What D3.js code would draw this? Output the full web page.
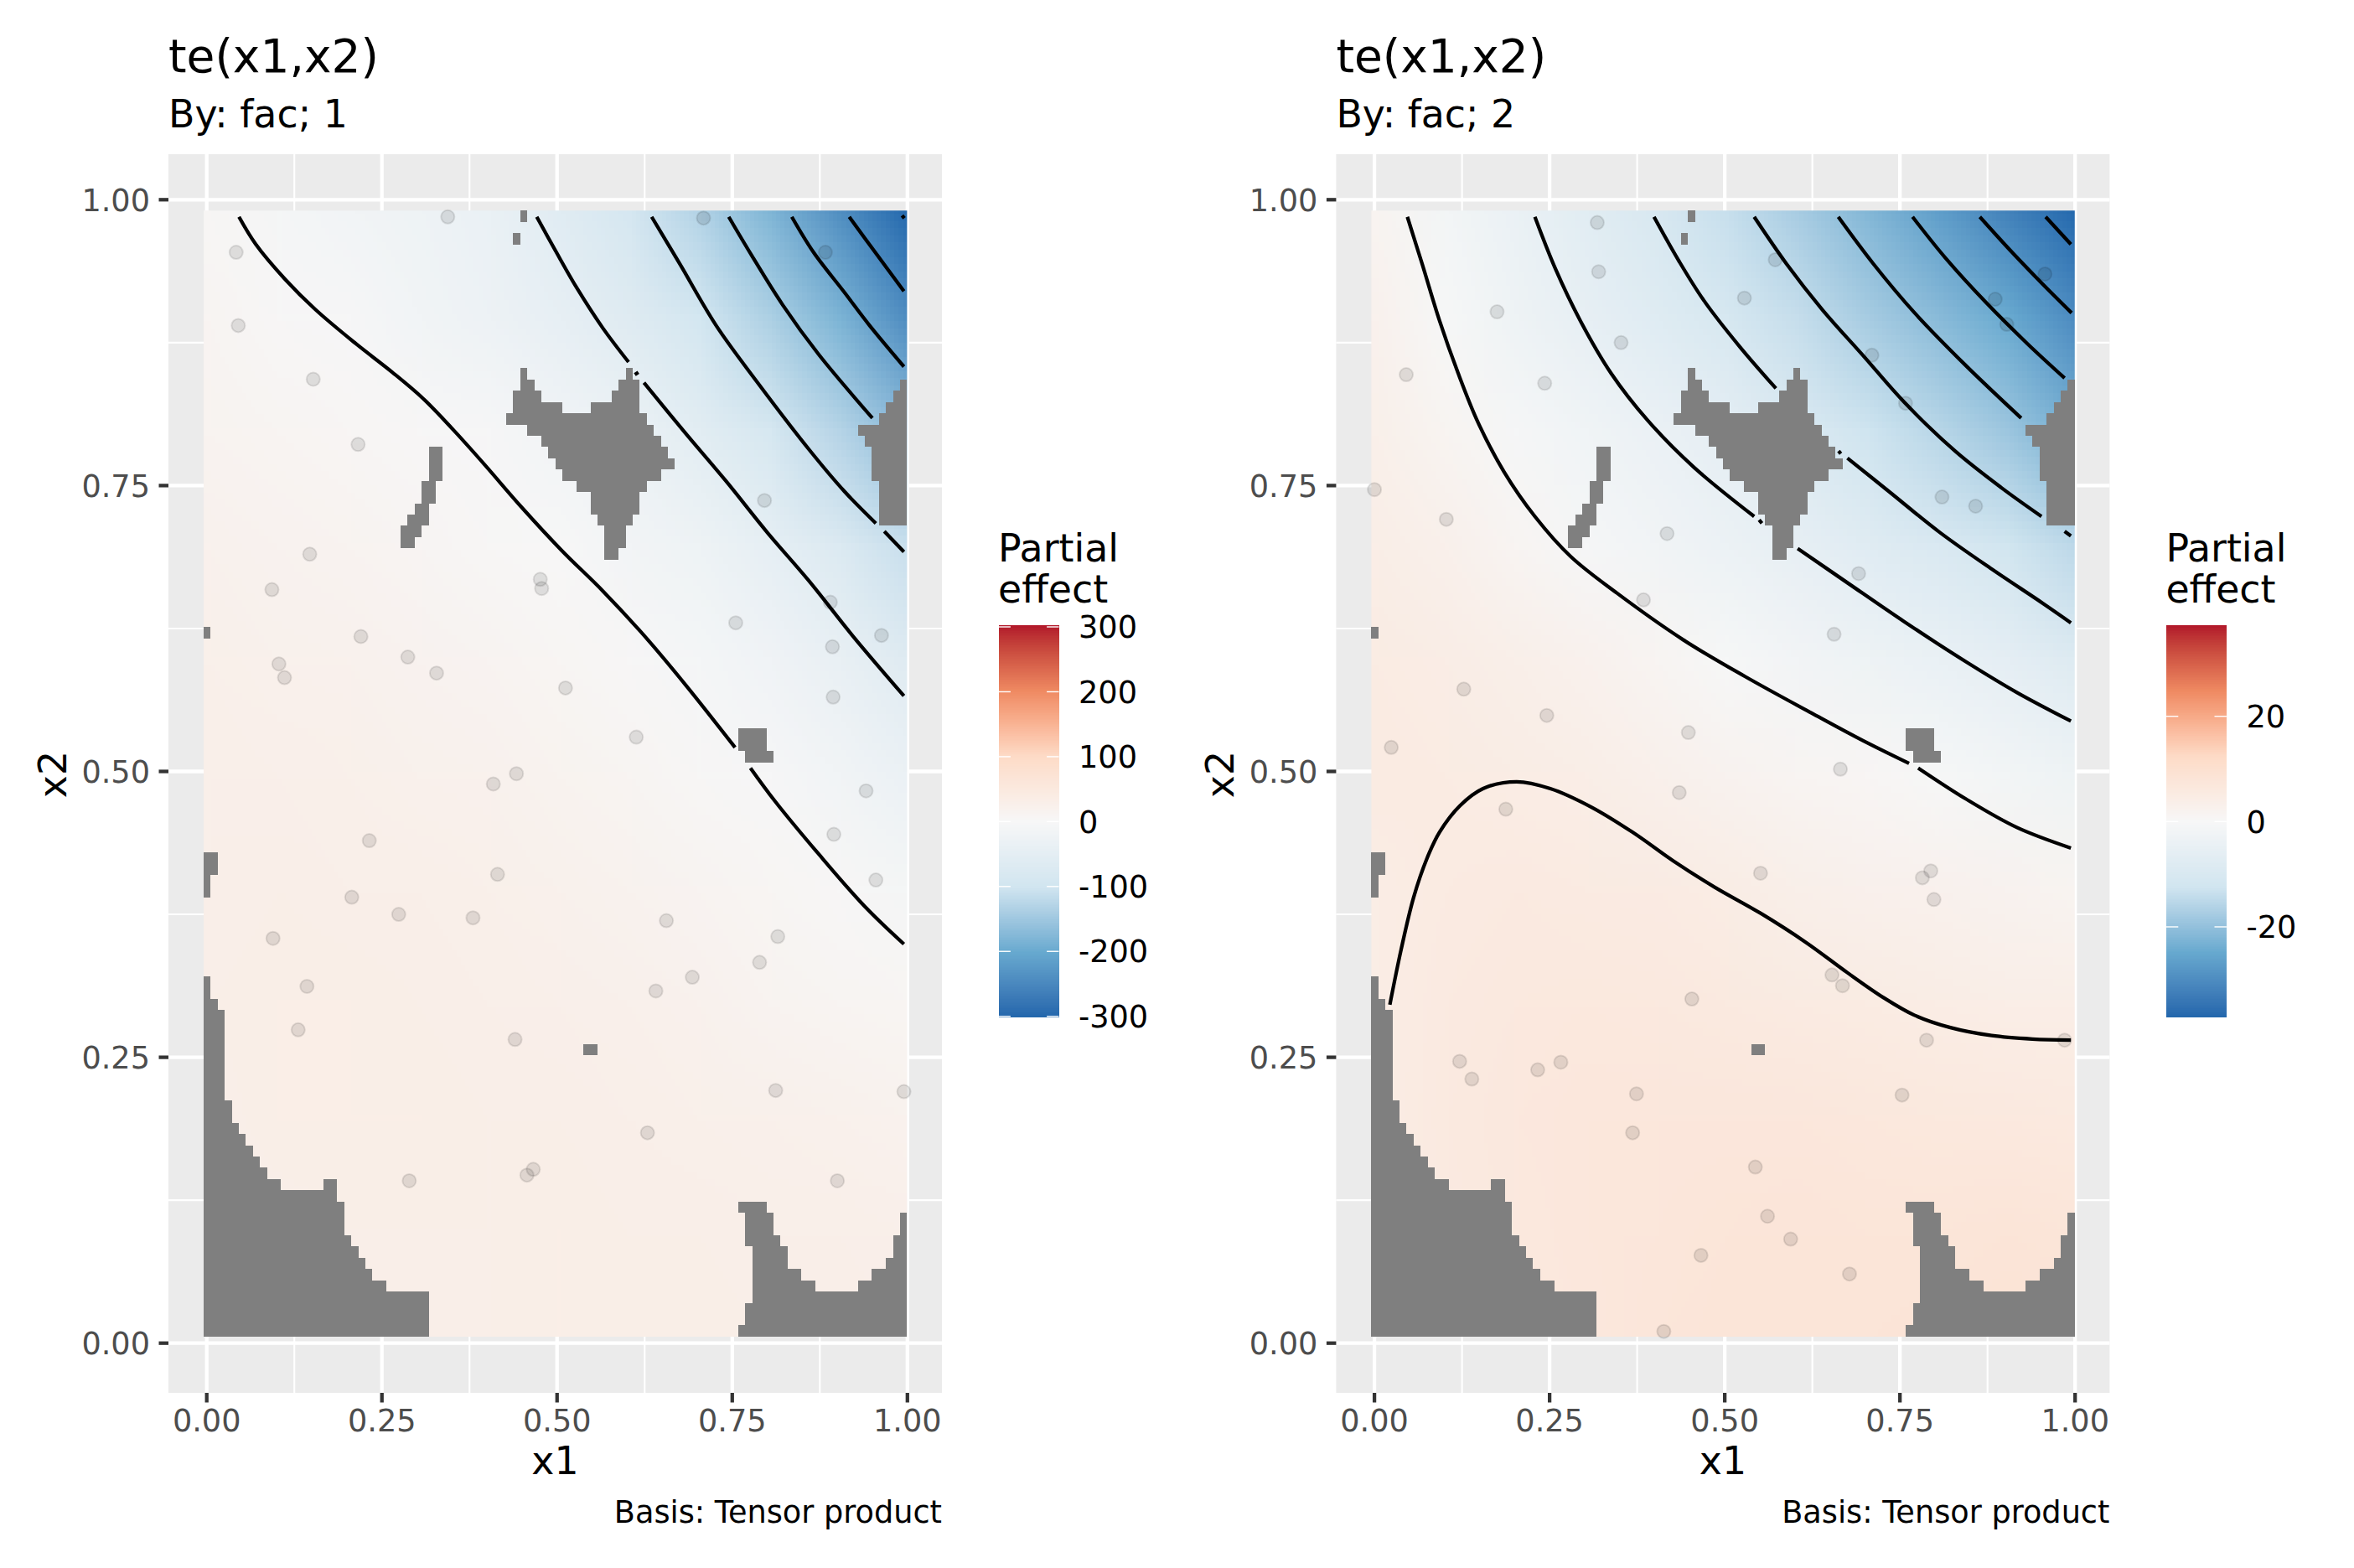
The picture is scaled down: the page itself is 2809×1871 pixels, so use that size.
<!DOCTYPE html>
<html><head><meta charset="utf-8">
<script src="https://cdn.jsdelivr.net/npm/d3@7/dist/d3.min.js"></script>
<style>html,body{margin:0;padding:0;background:#fff}svg{display:block}text{font-family:"DejaVu Sans"}</style>
</head><body><svg id="chart" width="2809" height="1871"></svg>
<script>
// ---------- data ----------
const axisTicks = [0, 0.25, 0.5, 0.75, 1];
const minorTicks = [0.125, 0.375, 0.625, 0.875];
const panelTitle = "te(x1,x2)";
const panelSubtitles = ["By: fac; 1", "By: fac; 2"];
const captionText = "Basis: Tensor product";
const legendTitleLines = ["Partial", "effect"];
const legendTicks1 = [300, 200, 100, 0, -100, -200, -300];
const legendTicks2 = [20, 0, -20];
const legendLimit1 = 301.7;
const legendLimit2 = 37.2;
const palette = ["#2166AC", "#67A9CF", "#D1E5F0", "#F7F7F7", "#FDDBC7", "#EF8A62", "#B2182B"];

// field values at x = 0, .1 ... 1 (columns) and y = 1, .9 ... 0 (rows)
const field1 = [
 [4,-8,-15,-25,-35,-60,-90,-132,-183,-243,-310],
 [10,3,-4,-15,-27,-42,-65,-92,-136,-183,-245],
 [15,10,7,3,-4,-15,-30,-57,-85,-128,-172],
 [21,17,14,9,5,-1,-14,-25,-45,-72,-110],
 [26,23,20,17,13,8,3,-7,-20,-37,-65],
 [29,27,26,23,20,16,11,5,-3,-17,-33],
 [30,31,30,29,26,23,18,13,8,2,-8],
 [31,33,33,32,30,27,24,20,15,10,8],
 [29,33,34,33,32,31,29,26,24,22,19],
 [26,30,31,32,32,33,32,31,30,29,27],
 [23,27,29,31,32,34,34,33,32,31,30]
];
const field2 = [
 [1.5,-1.5,-4.3,-7.2,-10.3,-13.7,-17.7,-22,-27,-32.5,-38],
 [2.5,-0.3,-2.8,-5.3,-7.8,-10.5,-13.8,-17.5,-21,-24.6,-30.3],
 [3.3,1.5,-0.8,-2.3,-4,-6,-9,-12.5,-15.3,-18.8,-23.5],
 [4.2,3,1.3,-0.7,-2,-3.5,-5.2,-7.7,-9.5,-12,-15],
 [5,4.4,3.5,2.6,1.2,-0.3,-1.8,-3,-4.4,-6,-8.3],
 [5.4,5,4.6,4,3,2,1.4,0.8,-0.2,-1.5,-3],
 [4.5,5.4,5.7,5.5,5.1,4.6,3.6,2.9,2.6,2.1,1.5],
 [4.5,5.6,6.2,6.3,6.1,5.8,5.4,5,4.6,4.2,4],
 [4.6,5.8,6.5,6.9,7,7,6.9,6.6,6.3,6.1,5.9],
 [4.6,5.6,6.3,6.9,7.3,7.6,7.8,7.7,7.7,8,7.6],
 [4.3,5.3,6,6.7,7.4,8,8,8,8.3,8.7,8.7]
];

// data extent of the 100 x 100 evaluation grid
const gridXRange = [-0.0044, 0.9995];
const gridYRange = [0.0057, 0.9905];
// excluded cells: [row from top, first column, column after last]
const naRuns = [
 [0,45,46],[2,44,45],[14,45,46],[14,60,61],[15,45,47],[15,59,62],[15,99,100],
 [16,44,48],[16,58,62],[16,98,100],[17,44,51],[17,55,62],[17,97,100],
 [18,43,63],[18,96,100],[19,46,64],[19,93,100],[20,48,65],[20,94,100],
 [21,32,34],[21,49,66],[21,95,100],[22,32,34],[22,50,67],[22,95,100],
 [23,32,34],[23,51,65],[23,95,100],[24,31,33],[24,53,63],[24,96,100],
 [25,31,33],[25,55,62],[25,96,100],[26,30,32],[26,55,62],[26,96,100],
 [27,29,32],[27,56,61],[27,96,100],[28,28,31],[28,57,60],[29,28,30],[29,57,60],
 [30,57,59],[37,0,1],[46,76,80],[47,76,80],[48,77,81],
 [57,0,2],[58,0,2],[59,0,1],[60,0,1],[68,0,1],[69,0,1],[70,0,2],
 [71,0,3],[72,0,3],[73,0,3],[74,0,3],[74,54,56],[75,0,3],[76,0,3],[77,0,3],[78,0,3],
 [79,0,4],[80,0,4],[81,0,5],[82,0,6],[83,0,7],[84,0,8],[85,0,9],
 [86,0,11],[86,17,19],[87,0,19],[88,0,20],[88,76,80],
 [89,0,20],[89,77,81],[89,99,100],[90,0,20],[90,77,81],[90,99,100],
 [91,0,21],[91,77,82],[91,98,100],[92,0,22],[92,78,83],[92,98,100],
 [93,0,23],[93,78,83],[93,97,100],[94,0,24],[94,78,85],[94,95,100],
 [95,0,26],[95,78,87],[95,93,100],[96,0,32],[96,78,100],
 [97,0,32],[97,77,100],[98,0,32],[98,77,100],[99,0,32],[99,76,100]
];

const points1 = [
 [.344,.985],[.709,.984],[.883,.954],[.042,.954],[.045,.890],[.152,.843],[.216,.786],[.796,.737],
 [.476,.668],[.478,.660],[.147,.690],[.093,.659],[.890,.648],[.755,.630],[.963,.619],[.893,.609],
 [.220,.618],[.103,.594],[.111,.582],[.287,.600],[.328,.586],[.512,.573],[.894,.565],[.613,.530],
 [.442,.498],[.409,.489],[.941,.483],[.895,.445],[.232,.4395],[.415,.410],[.955,.405],[.207,.390],
 [.274,.375],[.380,.372],[.656,.3695],[.0946,.354],[.815,.3556],[.789,.333],[.693,.320],[.641,.308],
 [.143,.312],[.1305,.274],[.440,.2656],[.812,.221],[.995,.220],[.629,.184],[.466,.152],[.457,.147],
 [.289,.142],[.900,.142]
];
const points2 = [
 [.318,.980],[.320,.937],[.572,.9475],[.957,.935],[.528,.914],[.886,.913],[.9025,.891],[.175,.902],
 [.352,.875],[.710,.864],[.0454,.847],[.243,.8395],[.758,.822],[.810,.740],[.858,.732],[0,.7465],
 [.1026,.7205],[.4176,.708],[.691,.673],[.384,.650],[.656,.620],[.1275,.572],[.246,.549],[.448,.534],
 [.024,.521],[.665,.502],[.435,.4815],[.1875,.467],[.551,.411],[.794,.413],[.782,.407],[.7985,.388],
 [.653,.322],[.668,.3126],[.453,.301],[.788,.265],[.985,.265],[.1216,.2465],[.139,.231],[.233,.239],
 [.266,.2457],[.374,.218],[.3685,.184],[.753,.217],[.5436,.154],[.561,.111],[.594,.091],[.466,.0768],
 [.678,.0605],[.413,.0103]
];

const contours1 = [
 [[.046,.985],[.070,.961],[.111,.931],[.155,.904],[.213,.874],[.265,.849],[.309,.826],[.353,.798],[.397,.768],[.448,.732],[.507,.693],[.565,.658],[.624,.619],[.683,.576],[.754,.521]],
 [[.776,.503],[.811,.474],[.873,.428],[.939,.382],[.995,.349]],
 [[.471,.985],[.499,.954],[.529,.922],[.565,.888],[.602,.858]],
 [[.611,.847],[.616,.849]],
 [[.624,.840],[.683,.796],[.741,.754],[.800,.709],[.859,.667],[.924,.617],[.995,.566]],
 [[.635,.985],[.675,.944],[.727,.890],[.785,.841],[.859,.782],[.910,.745],[.955,.717]],
 [[.967,.710],[.995,.692]],
 [[.745,.985],[.778,.951],[.822,.908],[.873,.865],[.950,.809]],
 [[.835,.985],[.866,.954],[.910,.919],[.946,.890],[.995,.854]],
 [[.917,.985],[.954,.954],[.995,.920]],
 [[.992,.984],[.996,.986]]
];
const contours2 = [
 [[.022,.296],[.038,.344],[.056,.390],[.075,.424],[.093,.447],[.122,.470],[.155,.485],[.203,.491],[.251,.485],[.309,.469],[.368,.447],[.426,.422],[.485,.399],[.551,.376],[.617,.350],[.675,.324],[.727,.302],[.770,.287],[.822,.276],[.881,.269],[.939,.266],[.994,.265]],
 [[.047,.985],[.068,.944],[.093,.894],[.119,.849],[.148,.805],[.185,.762],[.229,.723],[.280,.688],[.346,.656],[.441,.615],[.529,.583],[.624,.551],[.697,.527],[.763,.507]],
 [[.776,.503],[.844,.476],[.917,.451],[.994,.433]],
 [[.229,.985],[.258,.940],[.294,.894],[.338,.848],[.390,.807],[.456,.766],[.542,.723]],
 [[.549,.720],[.553,.717]],
 [[.604,.695],[.675,.665],[.756,.631],[.844,.596],[.917,.569],[.994,.544]],
 [[.399,.985],[.434,.947],[.470,.912],[.522,.871],[.573,.835]],
 [[.662,.778],[.666,.780]],
 [[.675,.774],[.734,.745],[.807,.709],[.881,.677],[.954,.647],[.994,.630]],
 [[.542,.985],[.588,.944],[.639,.904],[.697,.864],[.756,.823],[.829,.780],[.895,.748],[.952,.723]],
 [[.985,.710],[.994,.706]],
 [[.662,.985],[.712,.944],[.771,.901],[.844,.855],[.923,.809]],
 [[.768,.985],[.815,.949],[.873,.910],[.932,.874],[.985,.844]],
 [[.864,.985],[.910,.954],[.954,.926],[.995,.901]],
 [[.958,.985],[.994,.961]]
];

// ---------- layout ----------
const svg = d3.select("#chart");
const defs = svg.append("defs");
const SZ = {title: 55, sub: 45.83, axisTitle: 45.83, tick: 36.67, caption: 36.67};

function colorScale(limit) {
  const dom = palette.map((_, i) => -limit + i * (2 * limit) / 6);
  return d3.scaleLinear().domain(dom).range(palette).interpolate(d3.interpolateLab).clamp(true);
}

function drawPanel(idx, dx, field, points, contours, limit, legendTicks, subtitle) {
  const g = svg.append("g").attr("transform", `translate(${dx},0)`);
  const pL = 201, pR = 1124, pT = 184, pB = 1662;
  const x = d3.scaleLinear().domain([0, 1]).range([246.7, 1082.8]);
  const y = d3.scaleLinear().domain([0, 1]).range([1602.7, 238.3]);
  const color = colorScale(limit);

  g.append("rect").attr("x", pL).attr("y", pT).attr("width", pR - pL).attr("height", pB - pT).attr("fill", "#EBEBEB");
  const grid = g.append("g").attr("stroke", "#fff").attr("fill", "none");
  minorTicks.forEach(t => {
    grid.append("line").attr("x1", x(t)).attr("x2", x(t)).attr("y1", pT).attr("y2", pB).attr("stroke-width", 2.13);
    grid.append("line").attr("y1", y(t)).attr("y2", y(t)).attr("x1", pL).attr("x2", pR).attr("stroke-width", 2.13);
  });
  axisTicks.forEach(t => {
    grid.append("line").attr("x1", x(t)).attr("x2", x(t)).attr("y1", pT).attr("y2", pB).attr("stroke-width", 4.27);
    grid.append("line").attr("y1", y(t)).attr("y2", y(t)).attr("x1", pL).attr("x2", pR).attr("stroke-width", 4.27);
  });

  // heat field: each read value is one pixel of a small image, displayed with smoothing
  const n = field[0].length, m = field.length;
  const cv = document.createElement("canvas");
  cv.width = n; cv.height = m;
  const ctx = cv.getContext("2d");
  field.forEach((row, j) => row.forEach((v, i) => { ctx.fillStyle = color(v); ctx.fillRect(i, j, 1, 1); }));
  const clipId = "clip" + idx;
  defs.append("clipPath").attr("id", clipId).append("rect")
    .attr("x", x(gridXRange[0])).attr("y", y(gridYRange[1]))
    .attr("width", x(gridXRange[1]) - x(gridXRange[0])).attr("height", y(gridYRange[0]) - y(gridYRange[1]));
  const half = 0.5 / (n - 1);
  g.append("g").attr("clip-path", `url(#${clipId})`).append("image")
    .attr("href", cv.toDataURL())
    .attr("preserveAspectRatio", "none")
    .attr("x", x(-half)).attr("y", y(1 + half))
    .attr("width", x(1 + half) - x(-half)).attr("height", y(-half) - y(1 + half));

  // excluded cells
  const colW = (gridXRange[1] - gridXRange[0]) / 100, rowH = (gridYRange[1] - gridYRange[0]) / 100;
  g.append("g").attr("fill", "#7F7F7F").attr("shape-rendering", "crispEdges")
    .selectAll("rect").data(naRuns).join("rect")
    .attr("x", d => x(gridXRange[0] + d[1] * colW))
    .attr("width", d => x(gridXRange[0] + d[2] * colW) - x(gridXRange[0] + d[1] * colW))
    .attr("y", d => y(gridYRange[1] - d[0] * rowH))
    .attr("height", d => y(gridYRange[1] - (d[0] + 1) * rowH) - y(gridYRange[1] - d[0] * rowH));

  // observations
  g.append("g").selectAll("circle").data(points).join("circle")
    .attr("cx", d => x(d[0])).attr("cy", d => y(d[1])).attr("r", 8)
    .attr("fill", "rgba(0,0,0,0.1)").attr("stroke", "rgba(0,0,0,0.1)").attr("stroke-width", 2);

  // contours
  const line = d3.line().x(d => x(d[0])).y(d => y(d[1])).curve(d3.curveCatmullRom.alpha(0.5));
  g.append("g").attr("fill", "none").attr("stroke", "#000").attr("stroke-width", 4.27)
    .selectAll("path").data(contours).join("path").attr("d", line);

  // axes
  const ax = g.append("g");
  axisTicks.forEach(t => {
    ax.append("line").attr("x1", x(t)).attr("x2", x(t)).attr("y1", pB).attr("y2", pB + 11.5).attr("stroke", "#333").attr("stroke-width", 4.27);
    ax.append("line").attr("y1", y(t)).attr("y2", y(t)).attr("x1", pL - 11.5).attr("x2", pL).attr("stroke", "#333").attr("stroke-width", 4.27);
    ax.append("text").attr("x", x(t)).attr("y", 1708).attr("text-anchor", "middle").attr("font-size", SZ.tick).attr("fill", "#4D4D4D").text(t.toFixed(2));
    ax.append("text").attr("x", 179).attr("y", y(t) + 13.2).attr("text-anchor", "end").attr("font-size", SZ.tick).attr("fill", "#4D4D4D").text(t.toFixed(2));
  });
  ax.append("text").attr("x", (pL + pR) / 2).attr("y", 1759).attr("text-anchor", "middle").attr("font-size", SZ.axisTitle).text("x1");
  ax.append("text").attr("transform", `translate(79,${(pT + pB) / 2 + 1}) rotate(-90)`).attr("text-anchor", "middle").attr("font-size", SZ.axisTitle).text("x2");

  // titles
  g.append("text").attr("x", pL).attr("y", 86).attr("font-size", SZ.title).text(panelTitle);
  g.append("text").attr("x", pL).attr("y", 151.5).attr("font-size", SZ.sub).text(subtitle);
  g.append("text").attr("x", pR).attr("y", 1817).attr("text-anchor", "end").attr("font-size", SZ.caption).text(captionText);

  // legend
  const lg = g.append("g");
  const lgTitle = lg.append("text").attr("font-size", SZ.sub);
  legendTitleLines.forEach((s, i) => lgTitle.append("tspan").attr("x", 1191).attr("y", 670 + i * 48.5).text(s));
  const barL = 1191.5, barW = 72, barT = 746.7, barB = 1214;
  const ly = d3.scaleLinear().domain([-limit, limit]).range([barB, barT]);
  const bins = d3.range(300).map(i => -limit + (i + 0.5) * 2 * limit / 300);
  const binH = (barB - barT) / 300;
  lg.append("g").attr("shape-rendering", "crispEdges").selectAll("rect").data(bins).join("rect")
    .attr("x", barL).attr("width", barW).attr("y", d => ly(d) - binH / 2 - 0.3).attr("height", binH + 0.6)
    .attr("fill", d => color(d));
  legendTicks.forEach(t => {
    lg.append("line").attr("x1", barL).attr("x2", barL + 14.4).attr("y1", ly(t)).attr("y2", ly(t)).attr("stroke", "#fff").attr("stroke-width", 1.4);
    lg.append("line").attr("x1", barL + barW - 14.4).attr("x2", barL + barW).attr("y1", ly(t)).attr("y2", ly(t)).attr("stroke", "#fff").attr("stroke-width", 1.4);
    lg.append("text").attr("x", 1287).attr("y", ly(t) + 13.2).attr("font-size", SZ.tick).text(t);
  });
}

drawPanel(1, 0, field1, points1, contours1, legendLimit1, legendTicks1, panelSubtitles[0]);
drawPanel(2, 1393.4, field2, points2, contours2, legendLimit2, legendTicks2, panelSubtitles[1]);
</script></body></html>
